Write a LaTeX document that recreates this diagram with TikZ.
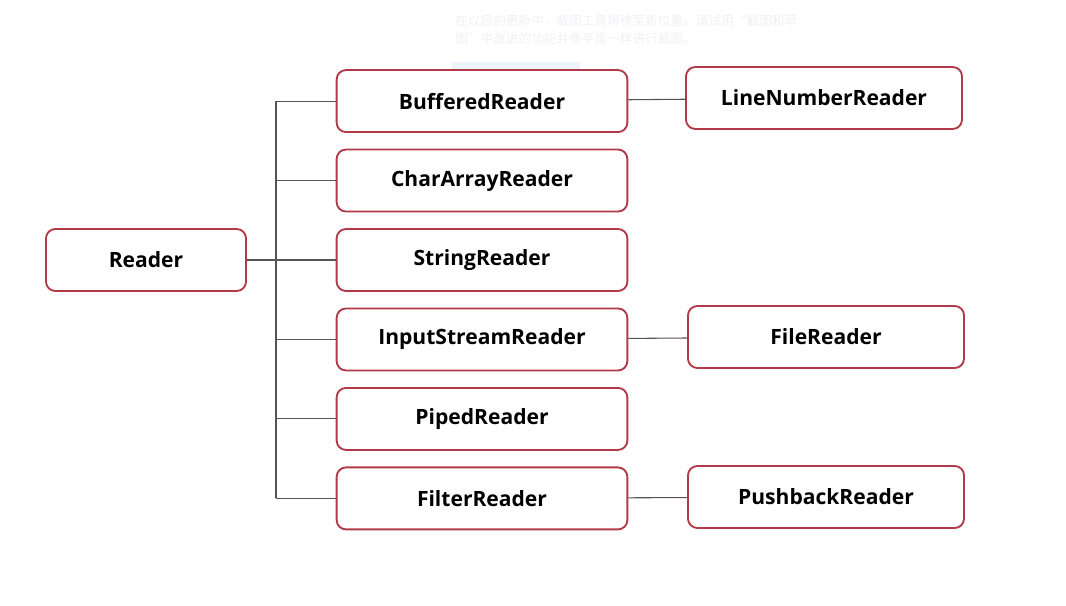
\documentclass[tikz,border=0pt]{standalone}
\usepackage{fontspec}
\setmainfont{Open Sans}
\newfontfamily\cjk{Noto Sans CJK SC}
\usetikzlibrary{positioning}

\definecolor{boxred}{HTML}{B23A48}
\definecolor{linegray}{HTML}{555555}
\definecolor{ghost}{HTML}{F0F0F3}
\definecolor{ghostblue}{HTML}{EEF4FC}

\tikzset{
  classbox/.style={draw=boxred, line width=1.4pt, rounded corners=7pt, fill=white,
    minimum width=218pt, minimum height=46.5pt, font=\bfseries\fontsize{15.8}{17}\selectfont},
  rootbox/.style={classbox, minimum width=150pt},
  subbox/.style={classbox, minimum width=207pt},
  link/.style={draw=linegray, line width=0.8pt}
}

\begin{document}
\begin{tikzpicture}[x=0.75pt, y=-0.75pt, node distance=59.6pt]
    \useasboundingbox (0,0) rectangle (1066,606);

    % faint notice from the screenshot
    \node [anchor=north west, inner sep=0pt, align=left, text=ghost,
      font=\cjk\fontsize{9.5}{13.5}\selectfont] (notice) at (455,15)
      {在以后的更新中，截图工具将移至新位置。请试用“截图和草\\图”中改进的功能并像平常一样进行截图。};
    \node [anchor=north west, fill=ghostblue, text=white, minimum width=96pt,
      minimum height=22pt, inner sep=0pt, font=\cjk\fontsize{9.5}{11}\selectfont] (tryit) at (452,62)
      {试用“截图和草图”};

    \node [rootbox] (reader) at (146,260) {Reader};
    \node [classbox] (string) at (482,260) {StringReader};
    \node [classbox, above of=string] (chararray) {CharArrayReader};
    \node [classbox, above of=chararray] (buffered) {BufferedReader};
    \node [classbox, below of=string] (inputstream) {InputStreamReader};
    \node [classbox, below of=inputstream] (piped) {PipedReader};
    \node [classbox, below of=piped] (filter) {FilterReader};

    \node [subbox] (linenumber) at (824,98) {LineNumberReader};
    \node [subbox] (file) at (826,337) {FileReader};
    \node [subbox] (pushback) at (826,497) {PushbackReader};

    \coordinate (trunk) at (276,260);

    \draw [link] (reader) -- (string);
    \draw [link] (trunk |- buffered) -- (trunk |- filter);
    \foreach \n in {buffered, chararray, inputstream, piped, filter}
        \draw [link] (trunk |- \n) -- (\n.west);

    \draw [link] (buffered) -- (linenumber);
    \draw [link] (inputstream) -- (file);
    \draw [link] (filter) -- (pushback);
\end{tikzpicture}
\end{document}
